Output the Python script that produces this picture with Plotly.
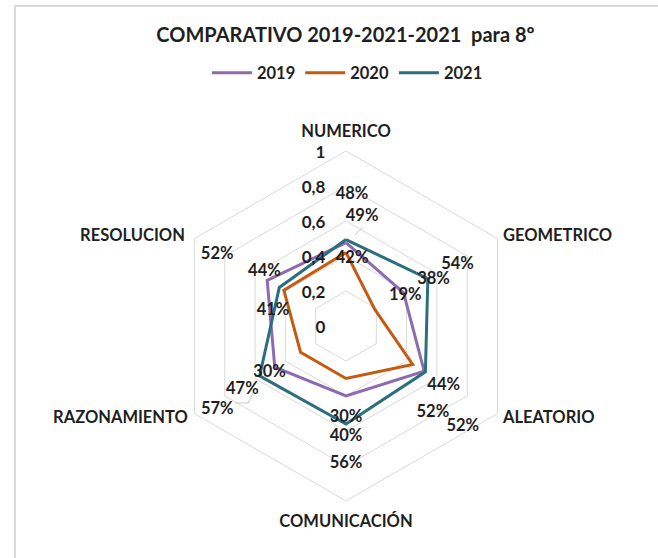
import plotly.graph_objects as go

categories = ["NUMERICO", "GEOMETRICO", "ALEATORIO", "COMUNICACIÓN", "RAZONAMIENTO", "RESOLUCION"]
years = ["2019", "2020", "2021"]
v2019 = [0.477, 0.38, 0.516, 0.40, 0.47, 0.52]
v2020 = [0.42, 0.19, 0.44, 0.30, 0.30, 0.41]
v2021 = [0.494, 0.54, 0.524, 0.56, 0.57, 0.44]
radial_ticks = [0, 0.2, 0.4, 0.6, 0.8, 1]
radial_ticktext = ["0", "0,2", "0,4", "0,6", "0,8", "1"]

series = [v2019, v2020, v2021]
colors = ["#8C6BB1", "#C55A11", "#2B6F7E"]

# data-label placement (radius, clockwise angle from top) per series
label_r = [
    [0.765, 0.574, 0.69, 0.615, 0.688, 0.85],
    [0.40, 0.388, 0.647, 0.51, 0.505, 0.43],
    [0.645, 0.736, 0.87, 0.77, 0.867, 0.569],
]
label_t = [
    [2.6, 60.6, 134, 180, 239.4, 300],
    [5, 60.8, 120.4, 180, 240, 284],
    [8.2, 60, 129.9, 180, 238, 305],
]
# category label placement
cat_r = [1.12, 1.04, 1.034, 1.11, 1.04, 1.06]
cat_t = [0, 59.6, 119.8, 180, 240.3, 299.7]
cat_pos = ["middle center", "middle right", "middle right", "middle center", "middle left", "middle left"]
# leader lines (Excel style)
leaders = [
    ([0.523, 0.574], [5.6, 9.7]),
    ([0.772, 0.712, 0.655], [235.3, 231.8, 234.2]),
]

FONT = "Lato"
TXT = "#1f1f1f"
PAD = "\u00a0" * 5

fig = go.Figure()
for name, vals, col in zip(years, series, colors):
    fig.add_trace(go.Scatterpolar(
        r=vals + vals[:1], theta=categories + categories[:1],
        mode="lines", name=name,
        line=dict(color=col, width=3),
        subplot="polar",
    ))

for lr, lt in leaders:
    fig.add_trace(go.Scatterpolar(
        r=lr, theta=lt, mode="lines", line=dict(color="#c8c8c8", width=1),
        showlegend=False, hoverinfo="skip", subplot="polar3",
    ))

for name, vals, lr, lt in zip(years, series, label_r, label_t):
    fig.add_trace(go.Scatterpolar(
        r=lr, theta=lt, mode="text",
        text=[f"{round(v*100)}%" for v in vals],
        textfont=dict(family=FONT, size=16.5, color=TXT, weight="bold"),
        showlegend=False, hoverinfo="skip",
        subplot="polar2",
    ))

# radial tick labels drawn left of the axis
fig.add_trace(go.Scatterpolar(
    r=radial_ticks, theta=[0] * len(radial_ticks), mode="text",
    text=[t + PAD for t in radial_ticktext], textposition="middle left",
    textfont=dict(family=FONT, size=17, color=TXT, weight="bold"),
    showlegend=False, hoverinfo="skip", subplot="polar2",
))

# category labels
fig.add_trace(go.Scatterpolar(
    r=cat_r, theta=cat_t, mode="text", text=categories, textposition=cat_pos,
    textfont=dict(family=FONT, size=16.5, color=TXT, weight="bold"),
    showlegend=False, hoverinfo="skip", subplot="polar2", cliponaxis=False,
))

dom = dict(x=[171/658, 521/658], y=[57/558, 407/558])
dom2 = dict(x=[136/658, 556/658], y=[19/558, 439/558])
hidden = dict(
    bgcolor="rgba(0,0,0,0)",
    radialaxis=dict(range=[0, 1.2], visible=False),
    angularaxis=dict(direction="clockwise", rotation=90, visible=False, thetaunit="degrees"),
)
fig.update_layout(
    width=658, height=558,
    margin=dict(l=0, r=0, t=0, b=0),
    paper_bgcolor="white",
    font=dict(family=FONT, color=TXT),
    title=dict(text="<b>COMPARATIVO 2019-2021-2021  para 8º</b>",
               x=0.525, xanchor="center", y=1 - 35/558, yanchor="middle",
               font=dict(family=FONT, size=20, color=TXT)),
    legend=dict(orientation="h", x=0.528, xanchor="center", y=1 - 73/558, yanchor="middle",
                font=dict(family=FONT, size=16.5, color=TXT, weight="bold"),
                itemwidth=40, traceorder="normal"),
    polar=dict(
        domain=dom,
        bgcolor="rgba(0,0,0,0)",
        gridshape="linear",
        radialaxis=dict(range=[0, 1], tickvals=radial_ticks, showticklabels=False,
                        angle=90, showline=False, ticks="", gridcolor="#d9d9d9", gridwidth=1),
        angularaxis=dict(direction="clockwise", rotation=90, showgrid=False,
                         linecolor="#d9d9d9", linewidth=1, ticks="", showticklabels=False),
    ),
    polar2=dict(domain=dom2, **hidden),
    polar3=dict(domain=dict(x=[136/658, 556/658], y=[22/558, 442/558]), **hidden),
    shapes=[dict(type="rect", xref="paper", yref="paper",
                 x0=15/658, x1=1.05, y0=-0.05, y1=1 - 6/558,
                 line=dict(color="#d9d9d9", width=2))],
)

fig.write_html("out.html")
